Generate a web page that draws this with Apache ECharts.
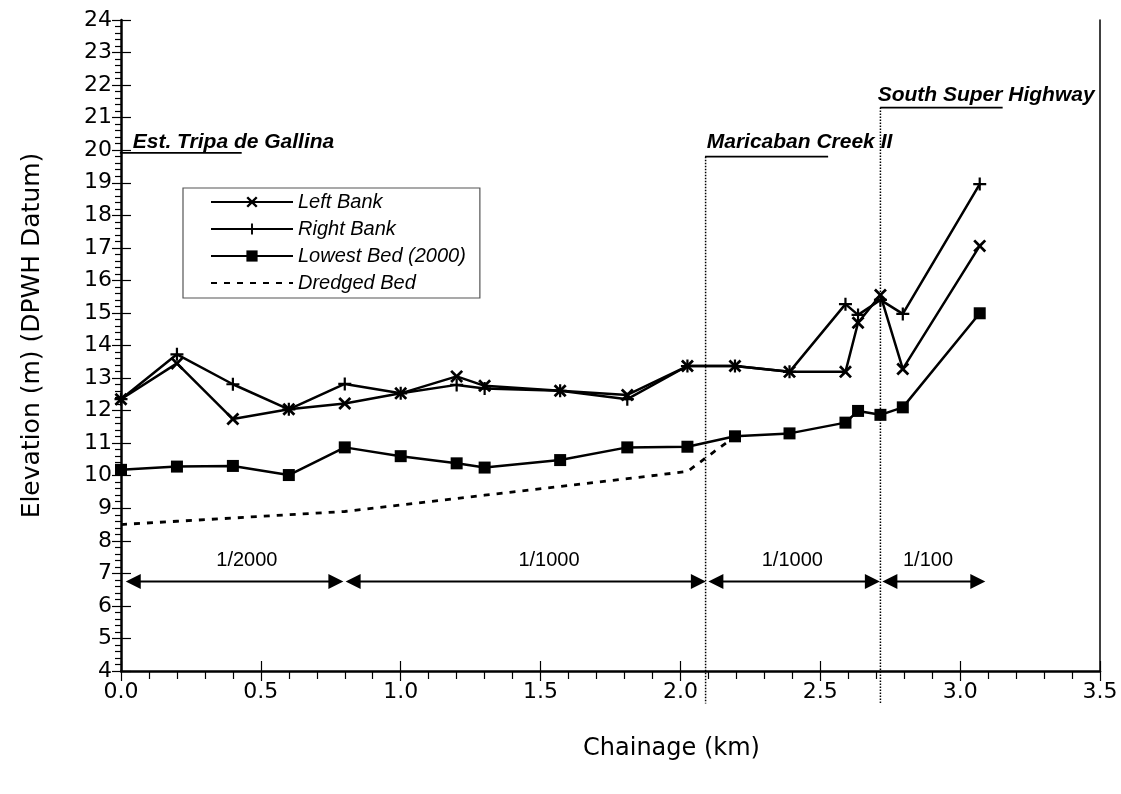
<!DOCTYPE html>
<html>
<head>
<meta charset="utf-8">
<script src="https://cdn.jsdelivr.net/npm/echarts@6/dist/echarts.min.js"></script>
<style>
  html, body { margin: 0; background: #fff; }
  #chart { width: 1121px; height: 794px; }
</style>
</head>
<body>
<div id="chart"></div>
<script>
// survey points along the river (km)
const chainage = [0, 0.2, 0.4, 0.6, 0.8, 1.0, 1.2, 1.3, 1.57, 1.81, 2.025, 2.195, 2.39, 2.59, 2.635, 2.715, 2.795, 3.07];
const leftBank = [12.35, 13.45, 11.74, 12.04, 12.22, 12.53, 13.05, 12.76, 12.61, 12.48, 13.37, 13.37, 13.19, 13.19, 14.70, 15.55, 13.28, 17.06];
const rightBank = [12.35, 13.73, 12.81, 12.04, 12.82, 12.53, 12.79, 12.68, 12.61, 12.35, 13.37, 13.37, 13.19, 15.27, 14.94, 15.40, 14.97, 18.96];
const lowestBed = [10.18, 10.28, 10.30, 10.02, 10.87, 10.60, 10.38, 10.25, 10.48, 10.87, 10.89, 11.21, 11.30, 11.63, 11.99, 11.87, 12.10, 14.99];
// dredged bed only drawn up to where it meets the existing bed
const dredgedBed = [8.5, 8.6, 8.7, 8.8, 8.9, 9.1, 9.3, 9.4, 9.67, 9.91, 10.13, 11.21];

// gradient sections (double arrows)
const sectionStart = [0.017, 0.803, 2.1, 2.722];
const sectionEnd = [0.795, 2.091, 2.713, 3.09];
const sectionLabels = ["1/2000", "1/1000", "1/1000", "1/100"];
const sectionLabelX = [0.45, 1.53, 2.4, 2.885];
const arrowLevel = 6.75;
const sectionLabelLevel = 7.38;

// crossings: underlined name + dotted divider
const crossingNames = ["Est. Tripa de Gallina", "Maricaban Creek II", "South Super Highway"];
const crossingTextX = [0.042, 2.094, 2.705];
const crossingTextY = [20.26, 20.26, 21.70];
const crossingLineFrom = [-0.004, 2.088, 2.714];
const crossingLineTo = [0.4315, 2.528, 3.152];
const crossingLineY = [19.92, 19.8, 21.31];
const dividerX = [null, 2.09, 2.715];
const dividerBottom = 3.0;

const CROSS = "path://M0,1.5L1.5,0L5,3.5L8.5,0L10,1.5L6.5,5L10,8.5L8.5,10L5,6.5L1.5,10L0,8.5L3.5,5Z";
const PLUS = "path://M4.15,0H5.85V4.15H10V5.85H5.85V10H4.15V5.85H0V4.15H4.15Z";

const pairs = (xs, ys) => ys.map((y, i) => [xs[i], y]);

const chart = echarts.init(document.getElementById("chart"));

const tickAxisBase = {
  type: "value",
  axisLine: { show: false },
  axisLabel: { show: false },
  splitLine: { show: false },
};

const option = {
  animation: false,
  backgroundColor: "#fff",
  grid: { left: 121, right: 21, top: 20, bottom: 123 },
  legend: {
    orient: "vertical",
    left: 183,
    top: 188,
    itemWidth: 82,
    itemHeight: 14,
    itemGap: 7,
    padding: [4, 14, 5, 27],
    borderColor: "#555",
    borderWidth: 1.2,
    textStyle: { fontSize: 20, fontStyle: "italic", fontFamily: "Liberation Sans", color: "#000" },
    data: [
      "Left Bank",
      "Right Bank",
      "Lowest Bed (2000)",
      { name: "Dredged Bed", itemStyle: { opacity: 0 } },
    ],
  },
  xAxis: [
    {
      type: "value",
      min: 0,
      max: 3.5,
      interval: 0.5,
      name: "Chainage (km)",
      nameLocation: "middle",
      nameGap: 66,
      nameTextStyle: {
        fontSize: 24,
        fontFamily: "DejaVu Sans",
        color: "#000",
        padding: [0, 0, 0, 122],
      },
      axisLine: { lineStyle: { color: "#000", width: 2.5 } },
      axisTick: { length: 10, lineStyle: { color: "#000", width: 1.2 } },
      minorTick: { show: true, splitNumber: 5, length: 8, lineStyle: { color: "#000", width: 1.2 } },
      axisLabel: {
        fontSize: 22,
        fontFamily: "DejaVu Sans",
        color: "#000",
        margin: 10,
        formatter: (v) => v.toFixed(1),
      },
      splitLine: { show: false },
    },
    {
      ...tickAxisBase,
      min: 0,
      max: 3.5,
      interval: 0.5,
      position: "bottom",
      axisTick: { inside: true, length: 10, lineStyle: { color: "#000", width: 1.2 } },
    },
  ],
  yAxis: [
    {
      type: "value",
      min: 4,
      max: 24,
      interval: 1,
      name: "Elevation (m) (DPWH Datum)",
      nameLocation: "middle",
      nameGap: 76,
      nameTextStyle: {
        fontSize: 25,
        fontFamily: "DejaVu Sans",
        color: "#000",
        padding: [0, 0, 0, 20],
      },
      axisLine: { lineStyle: { color: "#000", width: 2.5 } },
      axisTick: { length: 9, lineStyle: { color: "#000", width: 1.2 } },
      minorTick: { show: true, splitNumber: 5, length: 6, lineStyle: { color: "#000", width: 1.2 } },
      axisLabel: { fontSize: 22, fontFamily: "DejaVu Sans", color: "#000", margin: 9 },
      splitLine: { show: false },
    },
    {
      ...tickAxisBase,
      min: 4,
      max: 24,
      interval: 1,
      position: "left",
      axisTick: { inside: true, length: 10, lineStyle: { color: "#000", width: 1.2 } },
    },
    {
      ...tickAxisBase,
      min: 4,
      max: 24,
      interval: 1,
      position: "right",
      axisLine: { show: true, lineStyle: { color: "#000", width: 1.5 } },
      axisTick: { show: false },
    },
  ],
  series: [
    {
      name: "Dredged Bed",
      type: "line",
      data: pairs(chainage, dredgedBed),
      symbol: "none",
      lineStyle: { color: "#000", width: 2.8, type: [6, 7] },
      itemStyle: { color: "#000" },
      z: 1,
    },
    {
      name: "Lowest Bed (2000)",
      type: "line",
      data: pairs(chainage, lowestBed),
      symbol: "rect",
      symbolSize: 12,
      lineStyle: { color: "#000", width: 2.5 },
      itemStyle: { color: "#000" },
      z: 3,
    },
    {
      name: "Right Bank",
      type: "line",
      data: pairs(chainage, rightBank),
      symbol: PLUS,
      symbolSize: 13,
      lineStyle: { color: "#000", width: 2.5 },
      itemStyle: { color: "#000" },
      z: 3,
    },
    {
      name: "Left Bank",
      type: "line",
      data: pairs(chainage, leftBank),
      symbol: CROSS,
      symbolSize: 13,
      lineStyle: { color: "#000", width: 2.5 },
      itemStyle: { color: "#000" },
      z: 4,
    },
  ],
};

chart.setOption(option);

function px(x, y) {
  return chart.convertToPixel({ xAxisIndex: 0, yAxisIndex: 0 }, [x, y]);
}

function buildAnnotations() {
  const els = [];

  crossingNames.forEach((name, i) => {
    const t = px(crossingTextX[i], crossingTextY[i]);
    els.push({
      type: "text",
      z: 10,
      style: {
        text: name,
        x: t[0],
        y: t[1],
        fill: "#000",
        fontSize: 21,
        fontWeight: "bold",
        fontStyle: "italic",
        fontFamily: "Liberation Sans",
        verticalAlign: "middle",
        align: "left",
      },
    });
    const a = px(crossingLineFrom[i], crossingLineY[i]);
    const b = px(crossingLineTo[i], crossingLineY[i]);
    els.push({
      type: "line",
      z: 10,
      shape: { x1: a[0], y1: a[1], x2: b[0], y2: b[1] },
      style: { stroke: "#000", lineWidth: 1.8 },
    });
    if (dividerX[i] != null) {
      const top = px(dividerX[i], crossingLineY[i]);
      const bottom = px(dividerX[i], dividerBottom);
      els.push({
        type: "line",
        z: 5,
        shape: { x1: top[0], y1: top[1], x2: bottom[0], y2: bottom[1] },
        style: { stroke: "#000", lineWidth: 1.5, lineDash: [1.5, 1.5] },
      });
    }
  });

  const headLen = 15;
  const headHalf = 7.5;
  sectionLabels.forEach((label, i) => {
    const a = px(sectionStart[i], arrowLevel);
    const b = px(sectionEnd[i], arrowLevel);
    els.push({
      type: "line",
      z: 10,
      shape: { x1: a[0] + headLen - 2, y1: a[1], x2: b[0] - headLen + 2, y2: b[1] },
      style: { stroke: "#000", lineWidth: 2 },
    });
    els.push({
      type: "polygon",
      z: 10,
      shape: { points: [[a[0], a[1]], [a[0] + headLen, a[1] - headHalf], [a[0] + headLen, a[1] + headHalf]] },
      style: { fill: "#000" },
    });
    els.push({
      type: "polygon",
      z: 10,
      shape: { points: [[b[0], b[1]], [b[0] - headLen, b[1] - headHalf], [b[0] - headLen, b[1] + headHalf]] },
      style: { fill: "#000" },
    });
    const t = px(sectionLabelX[i], sectionLabelLevel);
    els.push({
      type: "text",
      z: 10,
      style: {
        text: label,
        x: t[0],
        y: t[1],
        fill: "#000",
        fontSize: 20,
        fontFamily: "Liberation Sans",
        align: "center",
        verticalAlign: "middle",
      },
    });
  });

  return els;
}

chart.setOption({ graphic: buildAnnotations() });
</script>
</body>
</html>
